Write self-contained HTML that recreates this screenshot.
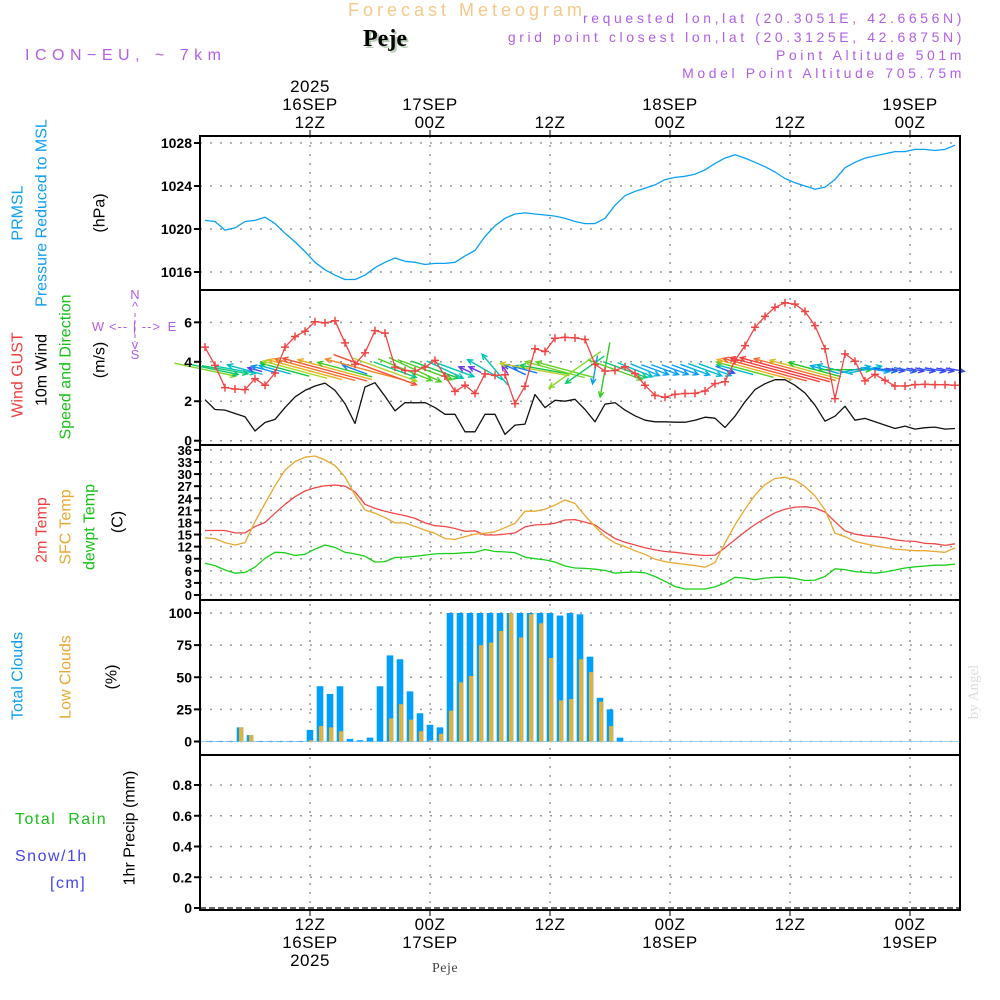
<!DOCTYPE html>
<html><head><meta charset="utf-8">
<style>
html,body{margin:0;padding:0;background:#fff;}
svg{display:block;}
text{font-family:"Liberation Sans",sans-serif;}
.lbl{font-family:"Liberation Sans Narrow","Liberation Sans",sans-serif;font-size:16px;}
.tk{font-size:14px;font-weight:bold;fill:#000;text-anchor:end;}
.tm{font-size:17px;fill:#000;text-anchor:middle;letter-spacing:0.5px;}
.pur{fill:#b25ee6;font-size:14px;letter-spacing:3.6px;}
</style></head>
<body>
<svg id="chart" width="1000" height="1000" xmlns="http://www.w3.org/2000/svg">
<text x="467" y="16" style="font-size:18px;fill:#f4c98a;letter-spacing:4px" text-anchor="middle">Forecast Meteogram</text>
<text x="387" y="48" style="font-family:'Liberation Serif',serif;font-size:24px;font-weight:bold;fill:#b8d0b8" text-anchor="middle">Peje</text>
<text x="385" y="46" style="font-family:'Liberation Serif',serif;font-size:24px;font-weight:bold;fill:#000" text-anchor="middle">Peje</text>
<text x="25" y="60" class="pur" style="font-size:16px;letter-spacing:5.5px">ICON−EU, ~ 7km</text>
<text x="965" y="23" class="pur" text-anchor="end">requested lon,lat (20.3051E, 42.6656N)</text>
<text x="965" y="42" class="pur" text-anchor="end">grid point closest lon,lat (20.3125E, 42.6875N)</text>
<text x="965" y="60" class="pur" text-anchor="end">Point Altitude 501m</text>
<text x="965" y="78" class="pur" text-anchor="end">Model Point Altitude 705.75m</text>
<text x="978" y="692" transform="rotate(-90 978 692)" text-anchor="middle" style="font-family:'Liberation Serif',serif;font-size:15px;fill:#ddd">by Angel</text>
<g id="plots"></g>
</svg>
<script>
// ===== data =====
const lineStartHour = 1.5;
const pressure = [1020.8,1020.7,1019.9,1020.1,1020.7,1020.8,1021.1,1020.5,1019.6,1018.8,1017.9,1016.9,1016.2,1015.7,1015.3,1015.3,1015.7,1016.4,1016.9,1017.3,1017.0,1016.9,1016.7,1016.8,1016.8,1016.9,1017.5,1018.0,1019.3,1020.3,1021.0,1021.4,1021.5,1021.4,1021.3,1021.2,1021.0,1020.7,1020.5,1020.5,1021.0,1022.2,1023.1,1023.5,1023.8,1024.1,1024.6,1024.8,1024.9,1025.1,1025.5,1026.1,1026.6,1026.9,1026.6,1026.2,1025.8,1025.3,1024.7,1024.3,1024.0,1023.7,1023.9,1024.6,1025.7,1026.2,1026.6,1026.8,1027.0,1027.2,1027.2,1027.4,1027.4,1027.3,1027.4,1027.8];
const gust = [4.74,3.82,2.69,2.62,2.59,3.14,2.81,3.43,4.74,5.28,5.55,6.03,5.97,6.08,4.96,3.87,4.45,5.58,5.45,3.73,3.56,3.53,3.73,4.07,3.28,2.5,2.81,2.39,3.39,3.31,3.34,1.88,2.76,4.66,4.52,5.19,5.24,5.21,5.13,
3.87,3.53,3.56,3.75,3.4,2.81,2.3,2.2,2.35,2.39,2.4,2.52,2.89,2.99,4.07,4.82,5.75,6.3,6.76,6.99,6.92,6.55,5.83,4.66,2.13,4.4,4.03,3.03,3.36,3.06,2.77,2.77,2.84,2.86,2.84,2.84,2.81];
const wind = [2.08,1.58,1.55,1.38,1.21,0.49,0.92,1.08,1.68,2.22,2.55,2.77,2.92,2.55,1.88,0.87,2.72,2.94,2.25,1.51,1.93,1.92,1.93,1.68,1.34,1.34,0.45,0.45,1.34,1.34,0.32,0.79,0.84,2.34,1.68,2.05,2.0,2.1,1.58,
0.96,1.85,1.93,1.55,1.26,1.04,0.96,0.96,0.94,0.94,1.04,1.19,1.14,0.67,1.24,1.97,2.59,2.89,3.09,3.09,2.81,2.42,1.8,0.99,1.24,1.75,1.04,1.13,0.96,0.79,0.62,0.74,0.59,0.66,0.69,0.59,0.62];
const windDir = [12,12,10,10,195,195,195,195,195,195,195,195,195,195,195,200,195,20,20,20,22,25,20,20,25,20,205,205,210,230,235,205,195,190,190,195,195,145,145,
100,100,20,20,22,22,20,20,20,20,20,20,20,20,195,195,195,195,195,195,195,195,195,195,195,0,-12,-12,8,8,8,10,10,10,10,10,10];
const temp2m = [16.0,16.0,16.0,15.4,15.4,17.0,18.0,20.3,22.5,24.4,25.8,26.6,27.1,27.3,27.0,25.6,22.5,21.5,20.8,20.2,19.7,19.0,17.9,17.2,17.0,16.5,15.8,15.9,14.9,14.9,15.1,15.4,16.9,17.4,17.5,17.8,18.6,18.7,18.1,
17.4,15.6,14.0,13.1,12.4,11.7,11.2,10.8,10.6,10.3,10.0,9.8,9.9,11.7,13.7,15.7,17.5,19.0,20.4,21.3,21.8,21.9,21.6,20.6,18.2,15.9,15.1,14.7,14.5,14.2,13.7,13.4,13.3,12.8,12.7,12.3,12.7];
const tempSfc = [14.2,14.0,13.0,12.4,13.0,18.2,22.7,27.1,31.0,33.1,34.2,34.5,33.5,32.1,29.3,24.8,21.1,20.3,19.2,17.9,17.9,17.0,16.1,15.3,14.0,13.8,14.5,15.1,15.3,15.7,16.7,17.8,20.8,20.8,21.3,22.3,23.6,22.7,19.7,
17.0,14.5,12.9,12.0,11.0,10.1,8.9,8.3,7.9,7.6,7.3,6.9,8.1,12.9,17.4,21.3,24.8,27.4,28.9,29.2,28.5,26.9,24.6,21.1,15.3,14.5,13.3,12.7,12.2,11.8,11.4,11.2,11.0,11.0,10.8,10.6,11.7];
const dewpt = [7.9,7.3,6.2,5.4,5.6,6.9,9.1,10.6,10.5,9.8,10.1,11.4,12.4,11.8,10.6,10.2,9.6,8.2,8.3,9.3,9.4,9.6,9.9,10.2,10.3,10.3,10.5,10.6,11.3,10.8,10.7,10.5,9.4,9.0,8.7,8.2,7.2,6.7,6.6,
6.4,6.1,5.4,5.6,5.7,5.5,4.6,3.4,2.1,1.5,1.5,1.5,2.0,3.0,4.4,4.2,3.8,4.2,4.4,4.4,4.1,3.6,3.7,4.6,6.5,6.3,5.8,5.6,5.4,5.7,6.2,6.7,7.0,7.2,7.4,7.4,7.7];
const cloudStartHour = 2;
const cloudTotal = [0,0,0,11,5,0,0,0,0,0,9,43,37,43,2,1,3,43,67,64,39,22,13,11,100,100,100,100,100,100,100,100,100,100,100,98,100,99,66,34,25,3];
const cloudLow = [0,0,0,11,5,0,0,0,0,0,1,12,11,8,0,0,0,0,18,29,17,8,1,6,24,46,51,75,77,86,100,81,99,92,65,32,33,64,54,31,12,0];
const precip = [];
const pTicks = [1016,1020,1024,1028];
const wTicks = [0,2,4,6];
const tTicks = [0,3,6,9,12,15,18,21,24,27,30,33,36];
const cTicks = [0,25,50,75,100];
const rTicks = [0,0.2,0.4,0.6,0.8];
const timeHours = [12,24,36,48,60,72];
const topLabels = [["2025","16SEP","12Z"],["17SEP","00Z"],["12Z"],["18SEP","00Z"],["12Z"],["19SEP","00Z"]];
const botLabels = [["12Z","16SEP","2025"],["00Z","17SEP"],["12Z"],["00Z","18SEP"],["12Z"],["00Z","19SEP"]];

// ===== scales =====
const X0=200, X1=960;
const xH = h => 190 + 10*h;
const yP = v => 229 - (v-1020)*10.75;
const yW = v => 440.7 - v*19.73;
const yT = v => 595 - v*4.03;
const yC = v => 741.5 - v*1.285;
const yR = v => 908 - v*153.75;
const panels = [[136,290],[290,445],[445,600],[600,755],[755,910]];

const NS='http://www.w3.org/2000/svg';
const root=document.getElementById('plots');
function mk(tag,attrs,parent){const e=document.createElementNS(NS,tag);for(const k in attrs)e.setAttribute(k,attrs[k]);(parent||root).appendChild(e);return e;}
function txt(x,y,s,cls,parent,extra){const e=mk('text',Object.assign({x:x,y:y,class:cls},extra||{}),parent);e.textContent=s;return e;}

// grid
const grid=mk('g',{});


const dash={stroke:'#999','stroke-width':1.5,'stroke-dasharray':'2,8',fill:'none'};
function hgrid(ticks,fy){ticks.forEach(t=>{const y=fy(t);mk('line',Object.assign({x1:X0,x2:X1,y1:y,y2:y},dash),grid);});}
hgrid(pTicks,yP);hgrid(wTicks,yW);hgrid(tTicks,yT);hgrid(cTicks,yC);hgrid(rTicks.slice(1),yR);
timeHours.forEach(h=>{mk('line',Object.assign({x1:xH(h),x2:xH(h),y1:136,y2:910},dash,{'stroke-dasharray':'2,7'}),grid);});

function poly(vals,fy,color,name,w){
  const pts=vals.map((v,i)=>xH(lineStartHour+i).toFixed(1)+','+fy(v).toFixed(1)).join(' ');
  const p=mk('polyline',{points:pts,fill:'none',stroke:color,'stroke-width':w||1.3,'stroke-linejoin':'round'});
  
  
  return p;
}
// pressure
poly(pressure,yP,'#0aa0f5','pressure-line');

// wind arrows
function windColor(s){
  const stops=[[0.3,[140,40,230]],[0.7,[40,80,240]],[1.0,[0,170,240]],[1.4,[0,200,170]],[1.8,[30,200,30]],[2.2,[170,220,40]],[2.6,[240,170,30]],[3.0,[245,60,60]]];
  if(s<=stops[0][0])return 'rgb('+stops[0][1]+')';
  for(let i=1;i<stops.length;i++){if(s<=stops[i][0]){const a=stops[i-1],b=stops[i],t=(s-a[0])/(b[0]-a[0]);return 'rgb('+a[1].map((c,j)=>Math.round(c+(b[1][j]-c)*t)).join(',')+')';}}
  return 'rgb('+stops[stops.length-1][1]+')';
}
const ag=mk('g',{});


wind.forEach((s,i)=>{
  const cx=xH(lineStartHour+i), cy=yW(3.6);
  const L=Math.max(10,s*30), a=windDir[i]*Math.PI/180;
  const dx=Math.cos(a)*L/2, dy=Math.sin(a)*L/2;
  const x1=cx-dx,y1=cy-dy,x2=cx+dx,y2=cy+dy;
  const c=windColor(s);
  const h=6, b=0.45;
  const hx1=x2-h*Math.cos(a-b),hy1=y2-h*Math.sin(a-b),hx2=x2-h*Math.cos(a+b),hy2=y2-h*Math.sin(a+b);
  const p=mk('path',{d:`M${x1},${y1}L${x2},${y2}M${hx1},${hy1}L${x2},${y2}L${hx2},${hy2}`,stroke:c,'stroke-width':1.4,fill:'none'},ag);
  
  
});
// wind speed & gust
poly(wind,yW,'#111','wind-speed-line');
poly(gust,yW,'#f04545','wind-gust-line');
gust.forEach((v,i)=>{
  const x=xH(lineStartHour+i),y=yW(v);
  const m=mk('path',{d:`M${x-4},${y}h8M${x},${y-4}v8`,stroke:'#f04545','stroke-width':1.5});
  
  
});
// temperatures
poly(temp2m,yT,'#f04848','temp-2m-line');
poly(tempSfc,yT,'#e8a830','temp-sfc-line');
poly(dewpt,yT,'#18d018','dewpoint-line');

// clouds
mk('line',{x1:X0,x2:X1,y1:yC(0),y2:yC(0),stroke:'#9cd0f0','stroke-width':1});
cloudTotal.forEach((v,k)=>{
  const c=xH(cloudStartHour+k);
  const b=mk('rect',{x:c-3.3,y:yC(v),width:6.6,height:Math.max(0.5,yC(0)-yC(v)),fill:'#009ffc'});
  
  
});
cloudLow.forEach((v,k)=>{
  const c=xH(cloudStartHour+k);
  if(v<=0)return;
  const b=mk('rect',{x:c-1,y:yC(v),width:4,height:yC(0)-yC(v),fill:'#e8b030'});
  
  
});
// precip zero line
const pz=mk('line',{x1:X0,x2:X1,y1:yR(0),y2:yR(0),stroke:'#333','stroke-width':1.5,'stroke-dasharray':'6,3'});



// frames
panels.forEach((p,i)=>{
  const r=mk('rect',{x:X0,y:p[0],width:X1-X0,height:p[1]-p[0],fill:'none',stroke:'#000','stroke-width':2});
  
  
});
// ticks
function yticks(ticks,fy,fmt,name,fs){
  const g=mk('g',{});
  
  
  ticks.forEach(t=>{const y=fy(t);mk('line',{x1:X0-6,x2:X0,y1:y,y2:y,stroke:'#000','stroke-width':2},g);
    txt(X0-8,y+5,fmt(t),'tk',g,fs?{style:'font-size:'+fs+'px'}:{});});
}
yticks(pTicks,yP,t=>String(t),'pressure-axis-ticks');
yticks(wTicks,yW,t=>String(t),'wind-axis-ticks');
yticks(tTicks,yT,t=>String(t),'temp-axis-ticks',13);
yticks(cTicks,yC,t=>String(t),'cloud-axis-ticks');
yticks(rTicks,yR,t=>t===0?'0':t.toFixed(1),'precip-axis-ticks');
// time labels
const tg=mk('g',{});


timeHours.forEach((h,i)=>{
  const x=xH(h);
  mk('line',{x1:x,x2:x,y1:130,y2:136,stroke:'#000','stroke-width':1},tg);
  mk('line',{x1:x,x2:x,y1:910,y2:916,stroke:'#000','stroke-width':1},tg);
  const tl=topLabels[i];
  tl.forEach((s,j)=>txt(x,128-(tl.length-1-j)*18,s,'tm',tg));
  botLabels[i].forEach((s,j)=>txt(x,930+j*18,s,'tm',tg));
});
txt(445,972,'Peje','tm',tg,{style:"font-family:'Liberation Serif',serif;font-size:14px;fill:#444"});

// axis titles
const lg=mk('g',{});


function rot(x,y,s,color,name){
  const t=mk('text',{x:x,y:y,transform:`rotate(-90 ${x} ${y})`,'text-anchor':'middle','dominant-baseline':'central',class:'lbl',fill:color},lg);
  t.textContent=s;
  
  
}
rot(18,213,'PRMSL','#11a0f0','prmsl-title');
rot(42,213,'Pressure Reduced to MSL','#11a0f0','pressure-title');
rot(100,213,'(hPa)','#000','hpa-unit');
rot(18,375,'Wind GUST','#f04040','gust-title');
rot(42,370,'10m Wind','#000','wind-title');
rot(66,367,'Speed and Direction','#18c018','wind-speed-dir-title');
rot(100,360,'(m/s)','#000','ms-unit');
rot(42,530,'2m Temp','#f04040','temp2m-title');
rot(66,527,'SFC Temp','#e8a830','sfc-temp-title');
rot(90,527,'dewpt Temp','#18c018','dewpt-title');
rot(118,522,'(C)','#000','celsius-unit');
rot(18,676,'Total Clouds','#11a0f0','total-clouds-title');
rot(66,677,'Low Clouds','#e8a830','low-clouds-title');
rot(112,677,'(%)','#000','percent-unit');
rot(130,828,'1hr Precip (mm)','#000','precip-title');
[['Total  Rain',15,824,'#18c018','rain-legend'],['Snow/1h',15,861,'#4444ee','snow-legend'],['[cm]',50,888,'#4444ee','cm-legend']].forEach(a=>{
  const t=mk('text',{x:a[1],y:a[2],fill:a[3],style:'font-size:16px;letter-spacing:1.5px;white-space:pre','xml:space':'preserve'},lg);
  t.textContent=a[0];
  
  
});
// compass
const cg=mk('g',{});


const cs='font-size:13px;fill:#b25ee6';
txt(135,299,'N','',cg,{style:cs,'text-anchor':'middle'});
txt(135,311,'^','',cg,{style:cs,'text-anchor':'middle'});
txt(135,331,'<-- | -->','',cg,{style:cs+';letter-spacing:1px','text-anchor':'middle'});
txt(98,331,'W','',cg,{style:cs,'text-anchor':'middle'});
txt(172,331,'E','',cg,{style:cs,'text-anchor':'middle'});
mk('line',{x1:135,x2:135,y1:313,y2:342,stroke:'#b25ee6','stroke-width':1,'stroke-dasharray':'4,3'},cg);
txt(135,349,'v','',cg,{style:cs,'text-anchor':'middle'});
txt(135,359,'S','',cg,{style:cs,'text-anchor':'middle'});
</script>
</body></html>
